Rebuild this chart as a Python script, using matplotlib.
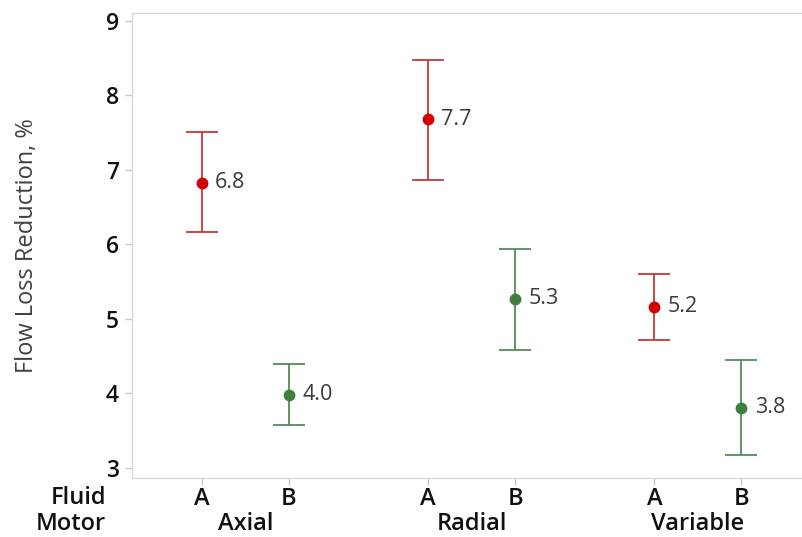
import matplotlib
matplotlib.use("Agg")
import matplotlib.pyplot as plt
from matplotlib.transforms import blended_transform_factory

motors = ["Axial", "Radial", "Variable"]
fluids = ["A", "B"]
mean_A = [6.83, 7.68, 5.16]
upper_A = [7.51, 8.48, 5.60]
lower_A = [6.17, 6.87, 4.72]
mean_B = [3.98, 5.27, 3.81]
upper_B = [4.40, 5.94, 4.45]
lower_B = [3.58, 4.58, 3.17]
label_A = ["6.8", "7.7", "5.2"]
label_B = ["4.0", "5.3", "3.8"]
yticks = [3, 4, 5, 6, 7, 8, 9]

plt.rcParams['font.family'] = ['Open Sans', 'DejaVu Sans']

W, H = 802, 537
fig = plt.figure(figsize=(W/100, H/100), dpi=100)
ax = fig.add_axes([132/W, 1-478/H, (804-132)/W, (478-13.3)/H])

group_step = 2.6
series = [
    (mean_A, upper_A, lower_A, label_A, "#D20000", "#C8383A", 0),
    (mean_B, upper_B, lower_B, label_B, "#3E7F3E", "#558B55", 1),
]
xpos_all, xlab_all = [], []
for means, ups, lows, labs, dot_c, bar_c, off in series:
    xs = [g * group_step + off for g in range(len(motors))]
    yerr = [[m - lo for m, lo in zip(means, lows)], [u - m for m, u in zip(means, ups)]]
    ax.errorbar(xs, means, yerr=yerr, fmt='none', ecolor=bar_c, elinewidth=1.3,
                capsize=11.5, capthick=1.3, zorder=2)
    ax.plot(xs, means, 'o', color=dot_c, markersize=7.5, zorder=3)
    for x, m, t in zip(xs, means, labs):
        ax.annotate(t, (x, m), xytext=(9.5, 0), textcoords='offset points',
                    va='center', ha='left', fontsize=15.5, color='#3a3a3a')
    xpos_all += xs
    xlab_all += [fluids[off]] * len(xs)

order = sorted(range(len(xpos_all)), key=lambda i: xpos_all[i])
ax.set_xticks([xpos_all[i] for i in order])
ax.set_xticklabels([xlab_all[i] for i in order])
ax.set_xlim((132-202)/87, (804-202)/87)
ax.set_ylim(2.866, 9.10)
ax.set_yticks(yticks)
ax.set_yticklabels([str(t) for t in yticks])

for s in ax.spines.values():
    s.set_color('#d9d9d9')
    s.set_linewidth(1.0)
ax.tick_params(axis='both', colors='#c8c8c8', length=5, width=1)
ax.tick_params(axis='y', labelcolor='#111111', labelsize=16.5, pad=4.3)
ax.tick_params(axis='x', labelcolor='#111111', labelsize=17, pad=1.5)
for lbl in ax.get_yticklabels() + ax.get_xticklabels():
    lbl.set_fontweight('semibold')

ax.set_ylabel("Flow Loss Reduction, %", fontsize=17, color='#404040')
ax.yaxis.set_label_coords((39-132)/(804-132), 0.5)

trans = blended_transform_factory(ax.transData, fig.transFigure)
for g, name in enumerate(motors):
    ax.text(g * group_step + 0.5, 7/H, name, transform=trans, ha='center', va='baseline',
            fontsize=17, fontweight='semibold', color='#111111')

fig.text(106/W, 33/H, "Fluid", ha='right', va='baseline', fontsize=17,
         fontweight='semibold', color='#111111')
fig.text(106/W, 7/H, "Motor", ha='right', va='baseline', fontsize=17,
         fontweight='semibold', color='#111111')

fig.savefig("out.png", dpi=100, facecolor='white')
